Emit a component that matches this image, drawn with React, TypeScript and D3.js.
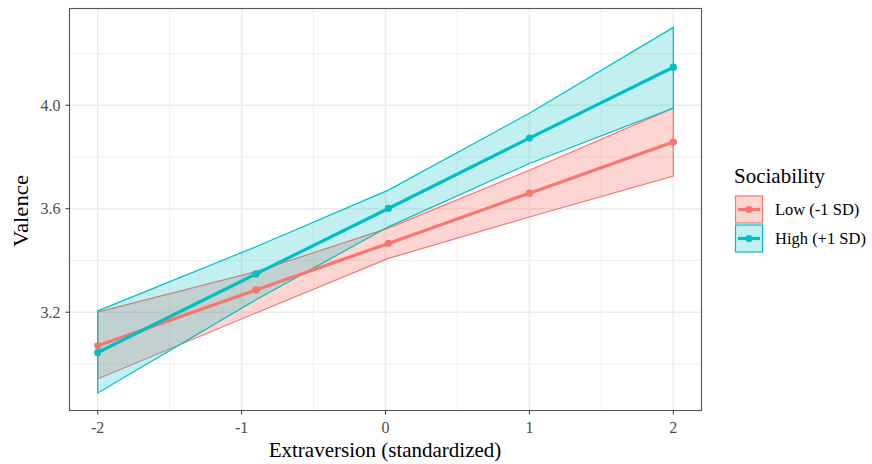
import React from "react";
import * as d3 from "d3";

const xValues = [-2, -0.9, 0.02, 1, 2];
const lowFit = [3.07, 3.286, 3.466, 3.66, 3.858];
const lowLower = [2.942, 3.197, 3.408, 3.568, 3.726];
const lowUpper = [3.2, 3.357, 3.525, 3.749, 3.989];
const highFit = [3.044, 3.348, 3.601, 3.873, 4.147];
const highLower = [2.888, 3.248, 3.53, 3.775, 3.989];
const highUpper = [3.205, 3.453, 3.672, 3.969, 4.301];
const xTicks = [-2, -1, 0, 1, 2];
const yTicks = [3.2, 3.6, 4.0];
const yMinor = [3.0, 3.4, 3.8, 4.2];
const xMinor = [-1.5, -0.5, 0.5, 1.5];
const seriesNames = ["Low (-1 SD)", "High (+1 SD)"];
const colors = ["#F8766D", "#00BFC4"];
const fillAlpha = [0.3, 0.24];

const W = 872, H = 464;
const P = { l: 69.5, r: 701.5, t: 8.5, b: 410.5 };
const font = "'Liberation Serif', 'Times New Roman', serif";

export default function App() {
  const x = d3.scaleLinear().domain([-2.196, 2.196]).range([P.l, P.r]);
  const y = d3.scaleLinear().domain([2.82, 4.374]).range([P.b, P.t]);
  const series = [
    { fit: lowFit, lo: lowLower, hi: lowUpper },
    { fit: highFit, lo: highLower, hi: highUpper },
  ];
  const area = (lo: number[], hi: number[]) =>
    d3.area<number>().x((_, i) => x(xValues[i])).y0((_, i) => y(lo[i])).y1((_, i) => y(hi[i]))(xValues.map((v) => v)) || "";
  const line = (v: number[]) =>
    d3.line<number>().x((_, i) => x(xValues[i])).y((d) => y(d))(v) || "";

  return (
    <svg width={W} height={H} style={{ position: "absolute", left: 0, top: 0, background: "#fff" }}>
      <rect x={0} y={0} width={W} height={H} fill="#fff" />
      {yMinor.map((v) => (
        <line key={"ym" + v} x1={P.l} x2={P.r} y1={y(v)} y2={y(v)} stroke="#EBEBEB" strokeWidth={0.8} />
      ))}
      {xMinor.map((v) => (
        <line key={"xm" + v} y1={P.t} y2={P.b} x1={x(v)} x2={x(v)} stroke="#EBEBEB" strokeWidth={0.8} />
      ))}
      {yTicks.map((v) => (
        <line key={"yg" + v} x1={P.l} x2={P.r} y1={y(v)} y2={y(v)} stroke="#EBEBEB" strokeWidth={1.5} />
      ))}
      {xTicks.map((v) => (
        <line key={"xg" + v} y1={P.t} y2={P.b} x1={x(v)} x2={x(v)} stroke="#EBEBEB" strokeWidth={1.5} />
      ))}
      {series.map((s, k) => (
        <path key={"r" + k} d={area(s.lo, s.hi)} fill={colors[k]} fillOpacity={fillAlpha[k]} stroke={colors[k]} strokeWidth={1.2} />
      ))}
      {series.map((s, k) => (
        <g key={"l" + k}>
          <path d={line(s.fit)} fill="none" stroke={colors[k]} strokeWidth={3.2} />
          {s.fit.map((v, i) => (
            <circle key={i} cx={x(xValues[i])} cy={y(v)} r={3.6} fill={colors[k]} />
          ))}
        </g>
      ))}
      <rect x={P.l} y={P.t} width={P.r - P.l} height={P.b - P.t} fill="none" stroke="#555" strokeWidth={1.1} />
      {yTicks.map((v) => (
        <g key={"yt" + v}>
          <line x1={P.l - 4} x2={P.l} y1={y(v)} y2={y(v)} stroke="#333" strokeWidth={1} />
          <text x={P.l - 9} y={y(v)} dy="0.35em" textAnchor="end" fontFamily={font} fontSize={16} fill="#4D4D4D">
            {v.toFixed(1)}
          </text>
        </g>
      ))}
      {xTicks.map((v) => (
        <g key={"xt" + v}>
          <line x1={x(v)} x2={x(v)} y1={P.b} y2={P.b + 4} stroke="#333" strokeWidth={1} />
          <text x={x(v)} y={433} textAnchor="middle" fontFamily={font} fontSize={16} fill="#4D4D4D">
            {v}
          </text>
        </g>
      ))}
      <text x={385} y={457} textAnchor="middle" fontFamily={font} fontSize={21} fill="#000">
        Extraversion (standardized)
      </text>
      <text transform={`translate(28,211) rotate(-90)`} textAnchor="middle" fontFamily={font} fontSize={20} fill="#000"
        textLength={72} lengthAdjust="spacingAndGlyphs">
        Valence
      </text>
      <text x={734} y={183} fontFamily={font} fontSize={21} fill="#000">Sociability</text>
      {seriesNames.map((n, k) => {
        const ky = 196 + k * 29;
        return (
          <g key={"lg" + k}>
            <rect x={735.5} y={ky} width={27} height={27} fill={colors[k]} fillOpacity={fillAlpha[k]} stroke={colors[k]} strokeWidth={1.2} />
            <line x1={738} x2={760} y1={ky + 13.5} y2={ky + 13.5} stroke={colors[k]} strokeWidth={3.2} />
            <circle cx={749} cy={ky + 13.5} r={3.6} fill={colors[k]} />
            <text x={775} y={ky + 13.5} dy="0.35em" fontFamily={font} fontSize={16.5} fill="#000">{n}</text>
          </g>
        );
      })}
    </svg>
  );
}
